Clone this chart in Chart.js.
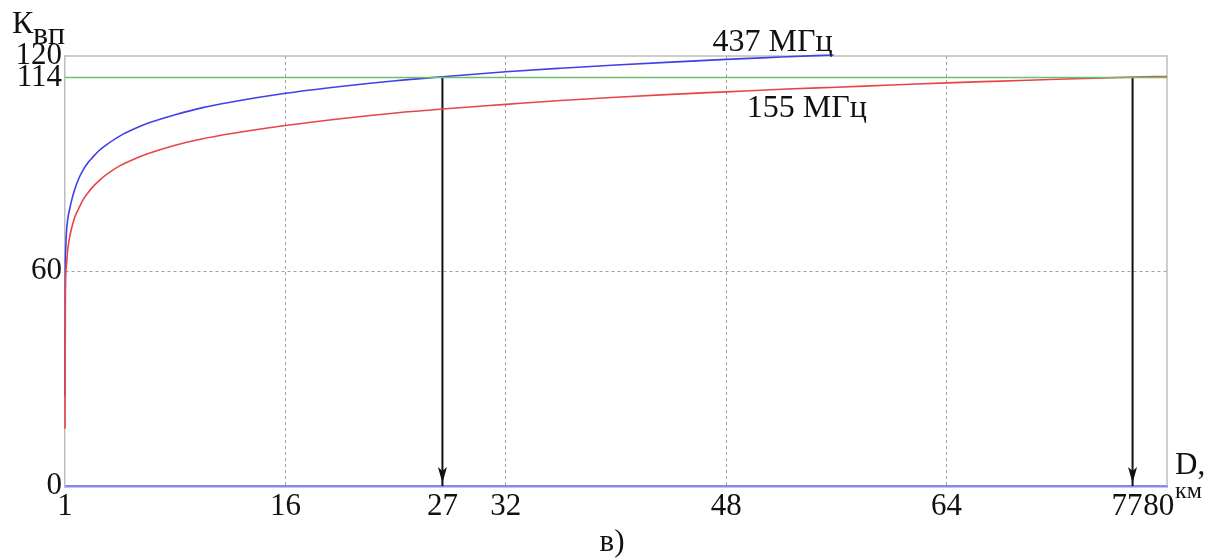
<!DOCTYPE html>
<html>
<head>
<meta charset="utf-8">
<script src="https://cdn.jsdelivr.net/npm/chart.js@4.4.0/dist/chart.umd.min.js"></script>
<style>
  html,body{margin:0;padding:0;background:#fff}
  #wrap{width:1218px;height:560px;position:relative}
</style>
</head>
<body>
<div id="wrap"><canvas id="chart" width="1218" height="560"></canvas></div>
<script>
// axis ticks (positions on a 0..80 km scale, labels as printed)
const xTicks = [0, 16, 27.4, 32, 48, 64, 77.1, 79.4];
const xTickLabels = ['1', '16', '27', '32', '48', '64', '77', '80'];
const xGrid = [16, 32, 48, 64];
const yTicks = [0, 60, 114, 120];
const yGrid = [60];

// 437 MHz curve (D km, K)
const blueD = [0, 0.02, 0.05, 0.1, 0.2, 0.35, 0.5, 0.7, 1, 1.3, 1.7, 2, 2.5, 3, 4, 5, 6, 8, 10, 12, 16, 20, 24, 27.4, 32, 36, 40, 44, 48, 52, 55.8];
const blueK = [25, 58, 66, 70.5, 74.5, 77.5, 80, 82.7, 85.8, 88.1, 90.4, 91.7, 93.7, 95.2, 97.7, 99.6, 101.2, 103.6, 105.6, 107.1, 109.6, 111.5, 113.1, 114.2, 115.6, 116.6, 117.5, 118.3, 119.05, 119.7, 120.3];

// 155 MHz curve
const redD = [0, 0.03, 0.09, 0.2, 0.33, 0.5, 0.7, 1, 1.3, 1.7, 2, 2.5, 3, 4, 5, 6, 8, 10, 12, 16, 20, 24, 27.4, 32, 36, 40, 44, 48, 52, 56, 60, 64, 68, 72, 77.5, 80];
const redK = [16, 54, 61, 66, 69.3, 72.2, 74.9, 77.5, 79.8, 82, 83.4, 85.3, 86.9, 89.4, 91.2, 92.7, 95.1, 96.9, 98.3, 100.6, 102.5, 104.1, 105.2, 106.5, 107.6, 108.5, 109.3, 110, 110.7, 111.3, 111.9, 112.5, 113, 113.5, 114.1, 114.3];

// required level and the two crossing distances
const levelK = 114;
const arrowD = [27.4, 77.5];

const SERIF = "'Liberation Serif', 'DejaVu Serif', serif";

function pts(xs, ys){ return xs.map((x,i)=>({x:x, y:ys[i]})); }

/* frame: top and right edges of the plot box */
const framePlugin = {
  id: 'frame',
  beforeDatasetsDraw(chart){
    const {ctx, chartArea:a} = chart;
    ctx.save();
    ctx.strokeStyle = '#bdbdbd';
    ctx.lineWidth = 1.5;
    ctx.beginPath();
    ctx.moveTo(a.left, a.top); ctx.lineTo(a.right, a.top); ctx.lineTo(a.right, a.bottom);
    ctx.stroke();
    ctx.restore();
  }
};

/* arrowheads at the lower end of the arrow datasets */
const arrowPlugin = {
  id: 'arrows',
  afterDatasetsDraw(chart){
    const ctx = chart.ctx;
    chart.data.datasets.forEach((ds, i)=>{
      if(!ds.isArrow) return;
      const p = chart.getDatasetMeta(i).data[1];
      if(!p) return;
      ctx.save();
      ctx.fillStyle = '#111';
      ctx.beginPath();
      ctx.moveTo(p.x, p.y - 3);
      ctx.lineTo(p.x - 4.5, p.y - 19);
      ctx.lineTo(p.x, p.y - 15);
      ctx.lineTo(p.x + 4.5, p.y - 19);
      ctx.closePath();
      ctx.fill();
      ctx.restore();
    });
  }
};

/* axis titles, curve labels, caption */
const textPlugin = {
  id: 'texts',
  afterDraw(chart){
    const {ctx} = chart;
    const xs = chart.scales.x, ys = chart.scales.y;
    ctx.save();
    ctx.fillStyle = '#111';
    ctx.textBaseline = 'alphabetic';
    ctx.textAlign = 'left';
    ctx.font = '32px ' + SERIF;
    ctx.fillText('К', 12, 33);
    ctx.font = '32px ' + SERIF;
    ctx.fillText('вп', 33, 44);

    ctx.font = '32px ' + SERIF;
    ctx.fillText('437 МГц', xs.getPixelForValue(47), ys.getPixelForValue(121.4));
    ctx.fillText('155 МГц', xs.getPixelForValue(49.5), ys.getPixelForValue(103));

    ctx.font = '31px ' + SERIF;
    ctx.fillText('D,', 1175, 474);
    ctx.font = '24px ' + SERIF;
    ctx.fillText('км', 1175, 498);

    ctx.font = '31px ' + SERIF;
    ctx.textAlign = 'center';
    ctx.fillText('в)', 612, 551);
    ctx.restore();
  }
};

const datasets = [
  { label: 'level', data: [{x:0, y:levelK}, {x:80, y:levelK}], borderColor: '#6cbf6c', borderWidth: 1.6 },
  { label: '155 МГц', data: pts(redD, redK), borderColor: '#e84545', borderWidth: 1.6, cubicInterpolationMode: 'monotone', clip: 4 },
  { label: '437 МГц', data: pts(blueD, blueK), borderColor: '#4040e8', borderWidth: 1.6, cubicInterpolationMode: 'monotone', clip: 4 }
];
arrowD.forEach(d=>{
  datasets.push({ label: 'arrow', isArrow: true, data: [{x:d, y:levelK}, {x:d, y:0}], borderColor: '#111', borderWidth: 2 });
});

new Chart(document.getElementById('chart'), {
  type: 'line',
  data: { datasets: datasets },
  options: {
    responsive: false,
    animation: false,
    devicePixelRatio: 1,
    layout: { padding: { top: 56, right: 51, left: 0, bottom: 0 } },
    elements: { point: { radius: 0, hoverRadius: 0 }, line: { fill: false } },
    plugins: { legend: { display: false }, tooltip: { enabled: false } },
    scales: {
      x: {
        type: 'linear', min: 0, max: 80,
        afterBuildTicks: s => { s.ticks = xTicks.map(v => ({ value: v })); },
        afterFit: s => { s.height = 74; },
        ticks: {
          autoSkip: false, maxRotation: 0, padding: 2, color: '#111',
          font: { family: SERIF, size: 31 },
          callback: (v, i) => xTickLabels[i]
        },
        grid: {
          drawTicks: false, lineWidth: 1,
          color: c => (c.tick && xGrid.includes(c.tick.value)) ? '#a0a0a0' : 'rgba(0,0,0,0)'
        },
        border: { color: '#8a8ae6', width: 2.5, dash: [3, 3] }
      },
      y: {
        min: 0, max: 120,
        afterBuildTicks: s => { s.ticks = yTicks.map(v => ({ value: v })); },
        afterFit: s => { s.width = 65; },
        ticks: {
          autoSkip: false, padding: 3, color: '#111',
          font: { family: SERIF, size: 31 }
        },
        grid: {
          drawTicks: false, lineWidth: 1,
          color: c => (c.tick && yGrid.includes(c.tick.value)) ? '#a0a0a0' : 'rgba(0,0,0,0)'
        },
        border: { color: '#bdbdbd', width: 1.5, dash: [3, 3] }
      }
    }
  },
  plugins: [framePlugin, arrowPlugin, textPlugin]
});
</script>
</body>
</html>
